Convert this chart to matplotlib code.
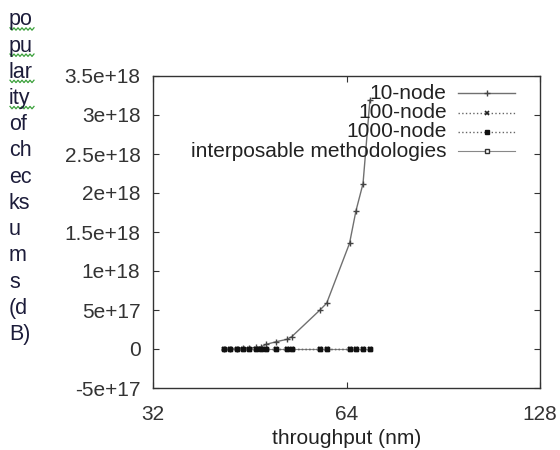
import matplotlib
matplotlib.use("Agg")
import matplotlib.pyplot as plt
from matplotlib.ticker import FixedLocator, FixedFormatter, NullLocator
import numpy as np

plt.rcParams['font.family'] = ['Liberation Sans', 'DejaVu Sans']

# throughput (nm) shared by all series
throughput = [41.2, 42.2, 43.2, 44.2, 45.2, 46.2, 47.2, 48.0, 49.8, 51.7, 52.6,
              58.2, 59.6, 64.7, 66.2, 67.9, 69.6]
node10 = [0.0, 0.003, 0.006, 0.01, 0.014, 0.02, 0.03, 0.06, 0.094, 0.124, 0.158,
          0.5, 0.586, 1.355, 1.77, 2.12, 3.19]   # x 1e18
node100 = [0.0] * len(throughput)
node1000 = [0.0] * len(throughput)
interposable = [0.0] * len(throughput)

series_labels = ['10-node', '100-node', '1000-node', 'interposable methodologies']
y_ticks = [-5e17, 0, 5e17, 1e18, 1.5e18, 2e18, 2.5e18, 3e18, 3.5e18]
y_tick_labels = ['-5e+17', '0', '5e+17', '1e+18', '1.5e+18', '2e+18', '2.5e+18', '3e+18', '3.5e+18']
x_ticks = [32, 64, 128]
x_tick_labels = ['32', '64', '128']
ylabel_pieces = ['po', 'pu', 'lar', 'ity', 'of', 'ch', 'ec', 'ks', 'u', 'm', 's', '(d', 'B)']
spell_flagged = ['po', 'pu', 'lar', 'ity']

FS = 15

fig = plt.figure(figsize=(5.6, 4.5), dpi=100)
ax = fig.add_axes([153/560, 1 - 388/450, (540 - 153)/560, (388 - 76)/450])

x = np.array(throughput)
h4, = ax.plot(x, np.array(interposable), '-', color='#888888', lw=0.8, marker='s', ms=3.5,
              mfc='white', mec='#333333', mew=1.0, zorder=2)
h1, = ax.plot(x, np.array(node10) * 1e18, '-', color='#707070', lw=1.0, marker='+', ms=4,
              mec='#444444', mew=1.0, zorder=3)
h2, = ax.plot(x, np.array(node100), ':', color='#666666', lw=1.0, marker='x', ms=3.5,
              mec='#222222', mew=1.2, zorder=3)
h3, = ax.plot(x, np.array(node1000), ':', color='#666666', lw=1.0, marker='s', ms=3.5,
              mfc='#111111', mec='#111111', zorder=4)

ax.set_xscale('log', base=2)
ax.set_xlim(32, 128)
ax.set_ylim(-5e17, 3.5e18)
ax.xaxis.set_major_locator(FixedLocator(x_ticks))
ax.xaxis.set_major_formatter(FixedFormatter(x_tick_labels))
ax.xaxis.set_minor_locator(NullLocator())
ax.yaxis.set_major_locator(FixedLocator(y_ticks))
ax.yaxis.set_major_formatter(FixedFormatter(y_tick_labels))
ax.yaxis.get_offset_text().set_visible(False)

ax.tick_params(axis='both', direction='in', length=4, width=0.8, colors='#333333',
               labelsize=FS, top=True, right=True)
ax.tick_params(axis='y', pad=9)
ax.tick_params(axis='x', pad=12)
for s in ax.spines.values():
    s.set_color('#333333')
    s.set_linewidth(1.0)

ax.set_xlabel('throughput (nm)', fontsize=FS, color='#222222', labelpad=4)

# gnuplot-style key: right aligned text, sample to its right
leg = ax.legend([h1, h2, h3, h4], [''] * 4, loc='upper right', frameon=False,
                bbox_to_anchor=(1 - 16/387, 1.0),
                fontsize=FS, handlelength=2.7, handletextpad=0.0, labelspacing=0.02,
                borderaxespad=0.0, borderpad=0.45)
fig.canvas.draw()
renderer = fig.canvas.get_renderer()
for handle, label in zip(leg.legend_handles, series_labels):
    bb = handle.get_window_extent(renderer)
    if bb.width == 0:
        continue
    fig.text((bb.x0 - 9) / fig.bbox.width, (bb.y0 + bb.y1) / 2 / fig.bbox.height, label,
             fontsize=FS, color='#222222', ha='right', va='center')

# wrapped y label as in the source page
row_y = 20
for piece in ylabel_pieces:
    fig.text(9/560, 1 - row_y/450, piece, fontsize=15.5, color='#1c1c3a',
             ha='left', va='center')
    if piece in spell_flagged:
        zx = np.arange(10, 35, 2.0)
        zy = row_y + 9 + np.where(np.arange(len(zx)) % 2 == 0, -1.2, 1.2)
        fig.add_artist(plt.Line2D(zx/560, 1 - zy/450, color='#3aa03a', lw=0.9,
                                  transform=fig.transFigure))
    row_y += 26.2

fig.savefig('out.png', dpi=100, facecolor='white')
